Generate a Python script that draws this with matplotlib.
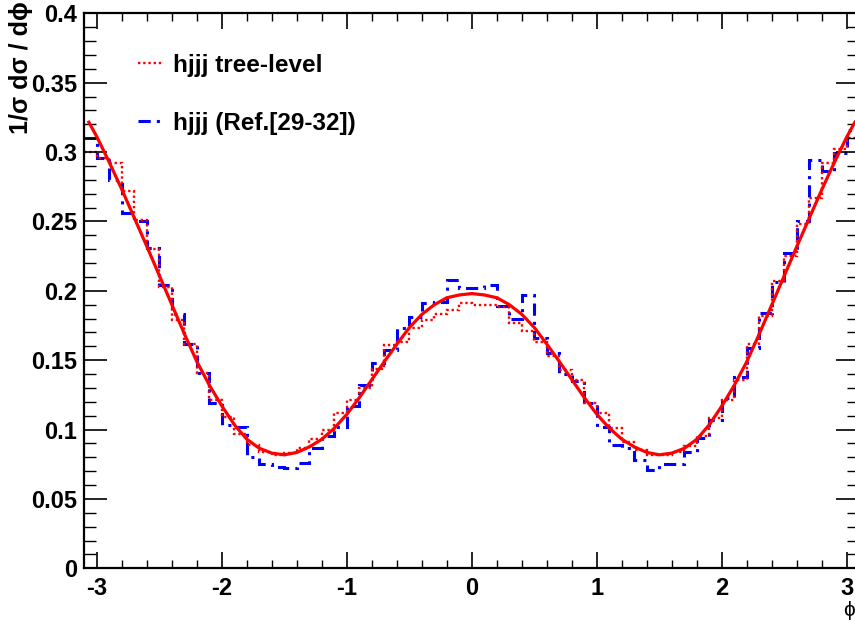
import numpy as np
import matplotlib
matplotlib.use("Agg")
import matplotlib.pyplot as plt
from matplotlib.lines import Line2D

plt.rcParams['font.family'] = ['Liberation Sans', 'DejaVu Sans']
plt.rcParams['axes.unicode_minus'] = False

# ---- data ----
bin_lo, bin_hi, bin_w = -3.1, 3.1, 0.1

tree_level = [0.300, 0.296, 0.292, 0.272, 0.251, 0.230, 0.203, 0.179, 0.162, 0.141,
              0.121, 0.109, 0.097, 0.089, 0.084, 0.082, 0.083, 0.087, 0.093, 0.100,
              0.112, 0.121, 0.130, 0.144, 0.161, 0.163, 0.173, 0.179, 0.183, 0.186,
              0.191, 0.190, 0.190, 0.188, 0.177, 0.171, 0.163, 0.153, 0.143, 0.136,
              0.119, 0.112, 0.101, 0.091, 0.085, 0.082, 0.082, 0.084, 0.088, 0.095,
              0.108, 0.121, 0.136, 0.162, 0.182, 0.207, 0.225, 0.248, 0.267, 0.292,
              0.302, 0.310]

ref_values = [0.310, 0.296, 0.280, 0.256, 0.250, 0.231, 0.204, 0.183, 0.162, 0.141,
              0.119, 0.103, 0.102, 0.080, 0.075, 0.073, 0.072, 0.076, 0.087, 0.095,
              0.102, 0.117, 0.132, 0.148, 0.157, 0.173, 0.181, 0.191, 0.192, 0.208,
              0.202, 0.202, 0.204, 0.189, 0.180, 0.197, 0.166, 0.155, 0.140, 0.135,
              0.119, 0.102, 0.089, 0.087, 0.078, 0.071, 0.075, 0.075, 0.084, 0.094,
              0.107, 0.123, 0.138, 0.159, 0.184, 0.206, 0.227, 0.250, 0.294, 0.286,
              0.299, 0.316]

fit_x = [-3.07, -3.0, -2.9, -2.8, -2.7, -2.6, -2.5, -2.4, -2.3, -2.2, -2.1, -2.0,
         -1.9, -1.8, -1.7, -1.6, -1.5, -1.4, -1.3, -1.2, -1.1, -1.0,
         -0.9, -0.8, -0.7, -0.6, -0.5, -0.4, -0.3, -0.2, -0.1, 0.0,
         0.1, 0.2, 0.3, 0.4, 0.5, 0.6, 0.7, 0.8, 0.9, 1.0,
         1.1, 1.2, 1.3, 1.4, 1.5, 1.6, 1.7, 1.8, 1.9, 2.0,
         2.1, 2.2, 2.3, 2.4, 2.5, 2.6, 2.7, 2.8, 2.9, 3.0, 3.07]
fit_y = [0.3225, 0.3110, 0.2925, 0.2730, 0.2525, 0.2320, 0.2110, 0.1900, 0.1690, 0.1490, 0.1320, 0.1170,
         0.1035, 0.0930, 0.0865, 0.0830, 0.0818, 0.0835, 0.0875, 0.0930, 0.1010, 0.1110,
         0.1230, 0.1360, 0.1490, 0.1615, 0.1735, 0.1830, 0.1900, 0.1950, 0.1970, 0.1980,
         0.1970, 0.1950, 0.1900, 0.1830, 0.1735, 0.1615, 0.1490, 0.1360, 0.1230, 0.1110,
         0.1010, 0.0930, 0.0875, 0.0835, 0.0818, 0.0830, 0.0865, 0.0930, 0.1035, 0.1170,
         0.1320, 0.1490, 0.1690, 0.1900, 0.2110, 0.2320, 0.2525, 0.2730, 0.2925, 0.3110, 0.3225]

labels = ["hjjj tree-level", "hjjj (Ref.[29-32])"]
y_ticks = [0, 0.05, 0.1, 0.15, 0.2, 0.25, 0.3, 0.35, 0.4]
y_ticklabels = ["0", "0.05", "0.1", "0.15", "0.2", "0.25", "0.3", "0.35", "0.4"]
x_ticks = [-3, -2, -1, 0, 1, 2, 3]

edges = np.round(np.arange(bin_lo, bin_hi + bin_w / 2, bin_w), 3)

W, H = 855, 623
fig = plt.figure(figsize=(W / 100, H / 100), dpi=100)
ax = fig.add_axes([84.35 / W, 1 - 568.3 / H, (859.35 - 84.35) / W, (568.3 - 13.3) / H])

red_ls = (0, (1, 1.2))
blue_ls = (0, (4, 2, 1, 2))
ax.stairs(ref_values, edges, baseline=None, color='#0000ff', lw=2.2,
          linestyle=blue_ls, label=labels[1])
ax.stairs(tree_level, edges, baseline=None, color='#ff0000', lw=1.7,
          linestyle=red_ls, label=labels[0])
ax.plot(fit_x, fit_y, color='#ff0000', lw=2.3, solid_capstyle='butt')

ax.set_xlim(bin_lo, bin_hi)
ax.set_ylim(0, 0.4)
ax.set_xticks(x_ticks)
ax.set_xticklabels([str(v) for v in x_ticks])
ax.set_xticks(np.round(np.arange(-3.0, 3.01, 0.2), 2), minor=True)
ax.set_yticks(y_ticks)
ax.set_yticklabels(y_ticklabels)
ax.set_yticks(np.round(np.arange(0, 0.4001, 0.01), 3), minor=True)

for lab in ax.get_xticklabels() + ax.get_yticklabels():
    lab.set_fontweight('bold')
    lab.set_fontsize(17)

ax.tick_params(axis='x', which='major', direction='in', length=11.5, width=1.2,
               top=True, bottom=True, pad=6)
ax.tick_params(axis='x', which='minor', direction='in', length=5.8, width=1.0,
               top=True, bottom=True)
ax.tick_params(axis='y', which='major', direction='in', length=16.5, width=1.2,
               left=True, right=True, pad=5)
ax.tick_params(axis='y', which='minor', direction='in', length=8.5, width=1.0,
               left=True, right=True)
for s in ax.spines.values():
    s.set_linewidth(1.6)

# axis titles
fig.text(21 / W, 1 - 1 / H, "1/σ dσ / dϕ", rotation=90, ha='center', va='top',
         fontsize=18, fontweight='bold')
fig.text(849 / W, 1 - 610 / H, "ϕ", ha='center', va='center', fontsize=15)

# legend
h_tree = Line2D([], [], color='#ff0000', lw=1.7, linestyle=red_ls)
h_ref = Line2D([], [], color='#0000ff', lw=2.2, linestyle=blue_ls)
leg = ax.legend([h_tree, h_ref], labels, loc='upper left',
                bbox_to_anchor=(138 / W, 1 - 54 / H), bbox_transform=fig.transFigure,
                frameon=False, borderpad=0, borderaxespad=0,
                handlelength=1.05, handletextpad=0.38, labelspacing=1.42,
                prop={'weight': 'bold', 'size': 17.5})

fig.savefig("out.png", dpi=100)
